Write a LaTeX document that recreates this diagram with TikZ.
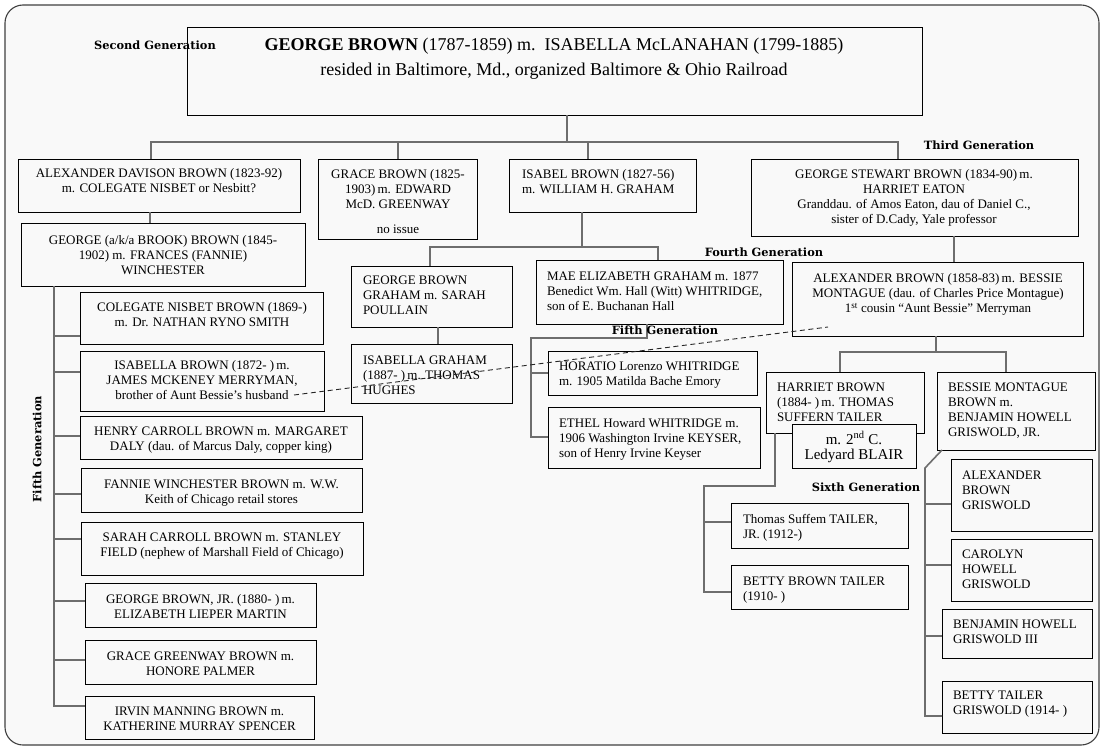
\documentclass[tikz,border=0pt]{standalone}
\usepackage{fontspec}
\setmainfont{Liberation Serif}
\newfontfamily\genfont{DejaVu Serif}
\usetikzlibrary{calc}
\definecolor{conncol}{RGB}{110,110,110}
\definecolor{framebg}{RGB}{249,249,249}
\newcommand\gbx[6][]{\node[bx,#1, minimum width={(#5-#3)*1pt}, minimum height={(#6-#4)*1pt}] (#2) at (#3,#4) {};}
\begin{document}
\begin{tikzpicture}[x=1pt, y=-1pt,
  bx/.style={draw=black, line width=0.9pt, inner sep=0pt, outer sep=0pt, anchor=north west},
  tx/.style={inner sep=0pt, outer sep=0pt, yshift=-3pt, font=\fontsize{13}{15}\selectfont, execute at begin node=\strut},
  txc/.style={tx, anchor=north, align=center},
  txl/.style={tx, anchor=north west, align=left},
  gen/.style={inner sep=0pt, font=\genfont\bfseries\fontsize{11.4}{13}\selectfont},
  conn/.style={draw=conncol, line width=1.6pt},
  dashconn/.style={draw=black!85, line width=0.9pt, dash pattern=on 5pt off 3.5pt}]
% background and frame
\fill[white] (0,0) rectangle (1105,751);
\draw[rounded corners=18pt, line width=1.1pt, draw=black!75, fill=framebg] (5,5) rectangle (1099,745);

% ---------- boxes ----------
\gbx{top}{187}{27}{922}{115}
\gbx{A}{18}{159}{300}{212}
\gbx{B}{318}{159}{477}{239}
\gbx{C}{509}{159}{696}{212}
\gbx{D}{751}{159}{1078}{236}
\gbx{E}{21}{223}{305}{286}
\gbx{F1}{80}{292}{323}{344}
\gbx{F2}{80}{351}{324}{411}
\gbx{F3}{80}{416}{362}{459}
\gbx{F4}{81}{468}{362}{512}
\gbx{F5}{81}{522}{363}{575}
\gbx{F6}{85}{583}{316}{627}
\gbx{F7}{85}{640}{316}{684}
\gbx{F8}{85}{696}{314}{739}
\gbx{GBG}{351}{266}{512}{327}
\gbx{IG}{351}{344}{512}{403}
\gbx{MAE}{536}{260}{783}{324}
\gbx{HOR}{548}{351}{757}{395}
\gbx{ETH}{548}{407}{760}{468}
\gbx{AB}{792}{262}{1083}{336}
\gbx{HAR}{766}{372}{924}{433}
\gbx{BES}{937}{372}{1095}{450}
\gbx{TST}{731}{503}{908}{548}
\gbx{BBT}{731}{565}{908}{609}
\gbx{ABG}{951}{459}{1092}{531}
\gbx{CHG}{951}{539}{1092}{601}
\gbx{BHG}{942}{609}{1092}{658}
\gbx{BTG}{942}{681}{1092}{733}

% ---------- connectors ----------
\coordinate (j0) at (567,142);
\coordinate (jA) at (151,142);
\coordinate (jB) at (398,142);
\coordinate (jC) at (588,142);
\coordinate (jD) at (898,142);
\draw[conn] (top.south -| j0) -- (j0);
\draw[conn] (A.north -| jA) -- (jA) -- (jD) -- (D.north -| jD);
\draw[conn] (jB) -- (B.north -| jB);
\draw[conn] (jC) -- (C.north -| jC);

\coordinate (jE) at (150,0);
\draw[conn] (A.south -| jE) -- (E.north -| jE);

\coordinate (l1) at (54,336);
\coordinate (l2) at (54,372);
\coordinate (l3) at (54,436);
\coordinate (l4) at (54,494);
\coordinate (l5) at (54,539);
\coordinate (l6) at (54,601);
\coordinate (l7) at (54,660);
\coordinate (l8) at (54,706);
\draw[conn] (E.south -| l1) -- (l8) -- (F8.west |- l8);
\draw[conn] (l1) -- (F1.west |- l1);
\draw[conn] (l2) -- (F2.west |- l2);
\draw[conn] (l3) -- (F3.west |- l3);
\draw[conn] (l4) -- (F4.west |- l4);
\draw[conn] (l5) -- (F5.west |- l5);
\draw[conn] (l6) -- (F6.west |- l6);
\draw[conn] (l7) -- (F7.west |- l7);

\coordinate (g0) at (582,247);
\coordinate (g1) at (430,247);
\coordinate (g2) at (658,247);
\coordinate (g3) at (438,0);
\draw[conn] (C.south -| g0) -- (g0);
\draw[conn] (GBG.north -| g1) -- (g1) -- (g2) -- (MAE.north -| g2);
\draw[conn] (GBG.south -| g3) -- (IG.north -| g3);

\coordinate (m0) at (647,338);
\coordinate (m1) at (531,338);
\coordinate (m2) at (531,373);
\coordinate (m3) at (531,437);
\draw[conn] (MAE.south -| m0) -- (m0) -- (m1) -- (m3) -- (ETH.west |- m3);
\draw[conn] (m2) -- (HOR.west |- m2);

\coordinate (d0) at (954,0);
\draw[conn] (D.south -| d0) -- (AB.north -| d0);

\coordinate (a0) at (936,352);
\coordinate (a1) at (840,352);
\coordinate (a2) at (1006,352);
\draw[conn] (AB.south -| a0) -- (a0);
\draw[conn] (HAR.north -| a1) -- (a1) -- (a2) -- (BES.north -| a2);

\coordinate (h0) at (775,486);
\coordinate (h1) at (704,486);
\coordinate (h2) at (704,522);
\coordinate (h3) at (704,592);
\draw[conn] (HAR.south -| h0) -- (h0) -- (h1) -- (h3) -- (BBT.west |- h3);
\draw[conn] (h2) -- (TST.west |- h2);

\coordinate (s1) at (925,468);
\coordinate (s2) at (925,504);
\coordinate (s3) at (925,565);
\coordinate (s4) at (925,636);
\coordinate (s5) at (925,716);
\draw[conn] ([xshift=5pt]BES.south west) -- (s1) -- (s5) -- (BTG.west |- s5);
\draw[conn] (s2) -- (ABG.west |- s2);
\draw[conn] (s3) -- (CHG.west |- s3);
\draw[conn] (s4) -- (BHG.west |- s4);

% overlapping Blair box
\gbx[fill=framebg]{BLA}{792}{424}{916}{468}

% ---------- texts ----------
\node[txc, font=\fontsize{18}{25}\selectfont] (top-t) at (554,35.5)
  {\textbf{GEORGE BROWN} (1787-1859) m.\ \ ISABELLA McLANAHAN (1799-1885)\\
   resided in Baltimore, Md., organized Baltimore \& Ohio Railroad};
\node[txc] (A-t) at (159,165.8) {ALEXANDER\ DAVISON\ BROWN (1823-92)\\ m. COLEGATE NISBET or Nesbitt?};
\node[txc] (B-t) at (398,166.8) {GRACE BROWN (1825-\\ 1903)\,m. EDWARD\\ McD. GREENWAY\\[10pt] no issue};
\node[txl] (C-t) at (522,166.8) {ISABEL BROWN (1827-56)\\ m. WILLIAM H. GRAHAM};
\node[txc] (D-t) at (914,166.8) {GEORGE STEWART BROWN (1834-90)\,m.\\ HARRIET EATON\\ Granddau. of Amos Eaton, dau of Daniel C.,\\ sister of D.Cady, Yale professor};
\node[txc] (E-t) at (163,232.8) {GEORGE (a/k/a BROOK) BROWN (1845-\\ 1902) m. FRANCES (FANNIE)\\ WINCHESTER};
\node[txc] (F1-t) at (202,299.8) {COLEGATE NISBET BROWN (1869-)\\ m. Dr. NATHAN RYNO SMITH};
\node[txc] (F2-t) at (202,357.8) {ISABELLA BROWN (1872- )\,m.\\ JAMES MCKENEY MERRYMAN,\\ brother of Aunt Bessie’s husband};
\node[txc] (F3-t) at (221,423.8) {HENRY CARROLL BROWN m. MARGARET\\ DALY\ (dau. of Marcus Daly, copper king)};
\node[txc] (F4-t) at (221.5,476.8) {FANNIE\ WINCHESTER BROWN m. W.W.\\ Keith of Chicago retail stores};
\node[txc] (F5-t) at (222,529.8) {SARAH CARROLL BROWN m. STANLEY\\ FIELD (nephew of Marshall Field of Chicago)};
\node[txc] (F6-t) at (200.5,591.8) {GEORGE\ BROWN, JR. (1880- )\,m.\\ ELIZABETH LIEPER MARTIN};
\node[txc] (F7-t) at (200.5,648.8) {GRACE GREENWAY\ BROWN m.\\ HONORE\ PALMER};
\node[txc] (F8-t) at (199.5,703.8) {IRVIN MANNING BROWN m.\\ KATHERINE MURRAY SPENCER};
\node[txl] (GBG-t) at (363,272.8) {GEORGE\ BROWN\\ GRAHAM m. SARAH\\ POULLAIN};
\node[txl] (IG-t) at (363,352.8) {ISABELLA GRAHAM\\ (1887- )\,m. THOMAS\\ HUGHES};
\node[txl] (MAE-t) at (547,268.8) {MAE ELIZABETH GRAHAM m. 1877\\ Benedict Wm.\ Hall (Witt)\ WHITRIDGE,\\ son of E.\ Buchanan Hall};
\node[txl] (HOR-t) at (559,358.8) {HORATIO Lorenzo WHITRIDGE\\ m. 1905 Matilda Bache Emory};
\node[txl] (ETH-t) at (559,415.8) {ETHEL Howard WHITRIDGE m.\\ 1906 Washington Irvine KEYSER,\\ son of Henry Irvine Keyser};
\node[txc] (AB-t) at (938,270.8) {ALEXANDER\ BROWN (1858-83)\,m. BESSIE\\ MONTAGUE\ (dau. of Charles Price Montague)\\ 1\textsuperscript{st} cousin “Aunt Bessie” Merryman};
\node[txl] (HAR-t) at (777,379.8) {HARRIET BROWN\\ (1884- )\,m. THOMAS\\ SUFFERN\ TAILER};
\node[txc, font=\fontsize{15}{15}\selectfont] (BLA-t) at (854,428.5) {m. 2\textsuperscript{nd} C.\\ Ledyard BLAIR};
\node[txl] (BES-t) at (948,379.8) {BESSIE MONTAGUE\\ BROWN m.\\ BENJAMIN HOWELL\\ GRISWOLD,\ JR.};
\node[txl] (TST-t) at (743,511.8) {Thomas Suffem TAILER,\\ JR. (1912-)};
\node[txl] (BBT-t) at (743,573.8) {BETTY BROWN TAILER\\ (1910- )};
\node[txl] (ABG-t) at (962,467.8) {ALEXANDER\\ BROWN\\ GRISWOLD};
\node[txl] (CHG-t) at (962,546.8) {CAROLYN\\ HOWELL\\ GRISWOLD};
\node[txl] (BHG-t) at (953,616.8) {BENJAMIN HOWELL\\ GRISWOLD III};
\node[txl] (BTG-t) at (953,687.8) {BETTY TAILER\\ GRISWOLD (1914- )};

% ---------- generation labels ----------
\node[gen] (g2lab) at (155,45) {Second Generation};
\node[gen] (g3lab) at (979,145) {Third Generation};
\node[gen] (g4lab) at (764,252) {Fourth Generation};
\node[gen] (g5lab) at (665,330) {Fifth Generation};
\node[gen, rotate=90] (g5lef) at (37,449) {Fifth Generation};
\node[gen] (g6lab) at (866,487) {Sixth Generation};

% ---------- dashed relation ----------
\coordinate (husband) at (294,395);
\coordinate (bessie) at (828,327);
\draw[dashconn] (husband) -- (bessie);
\end{tikzpicture}
\end{document}
